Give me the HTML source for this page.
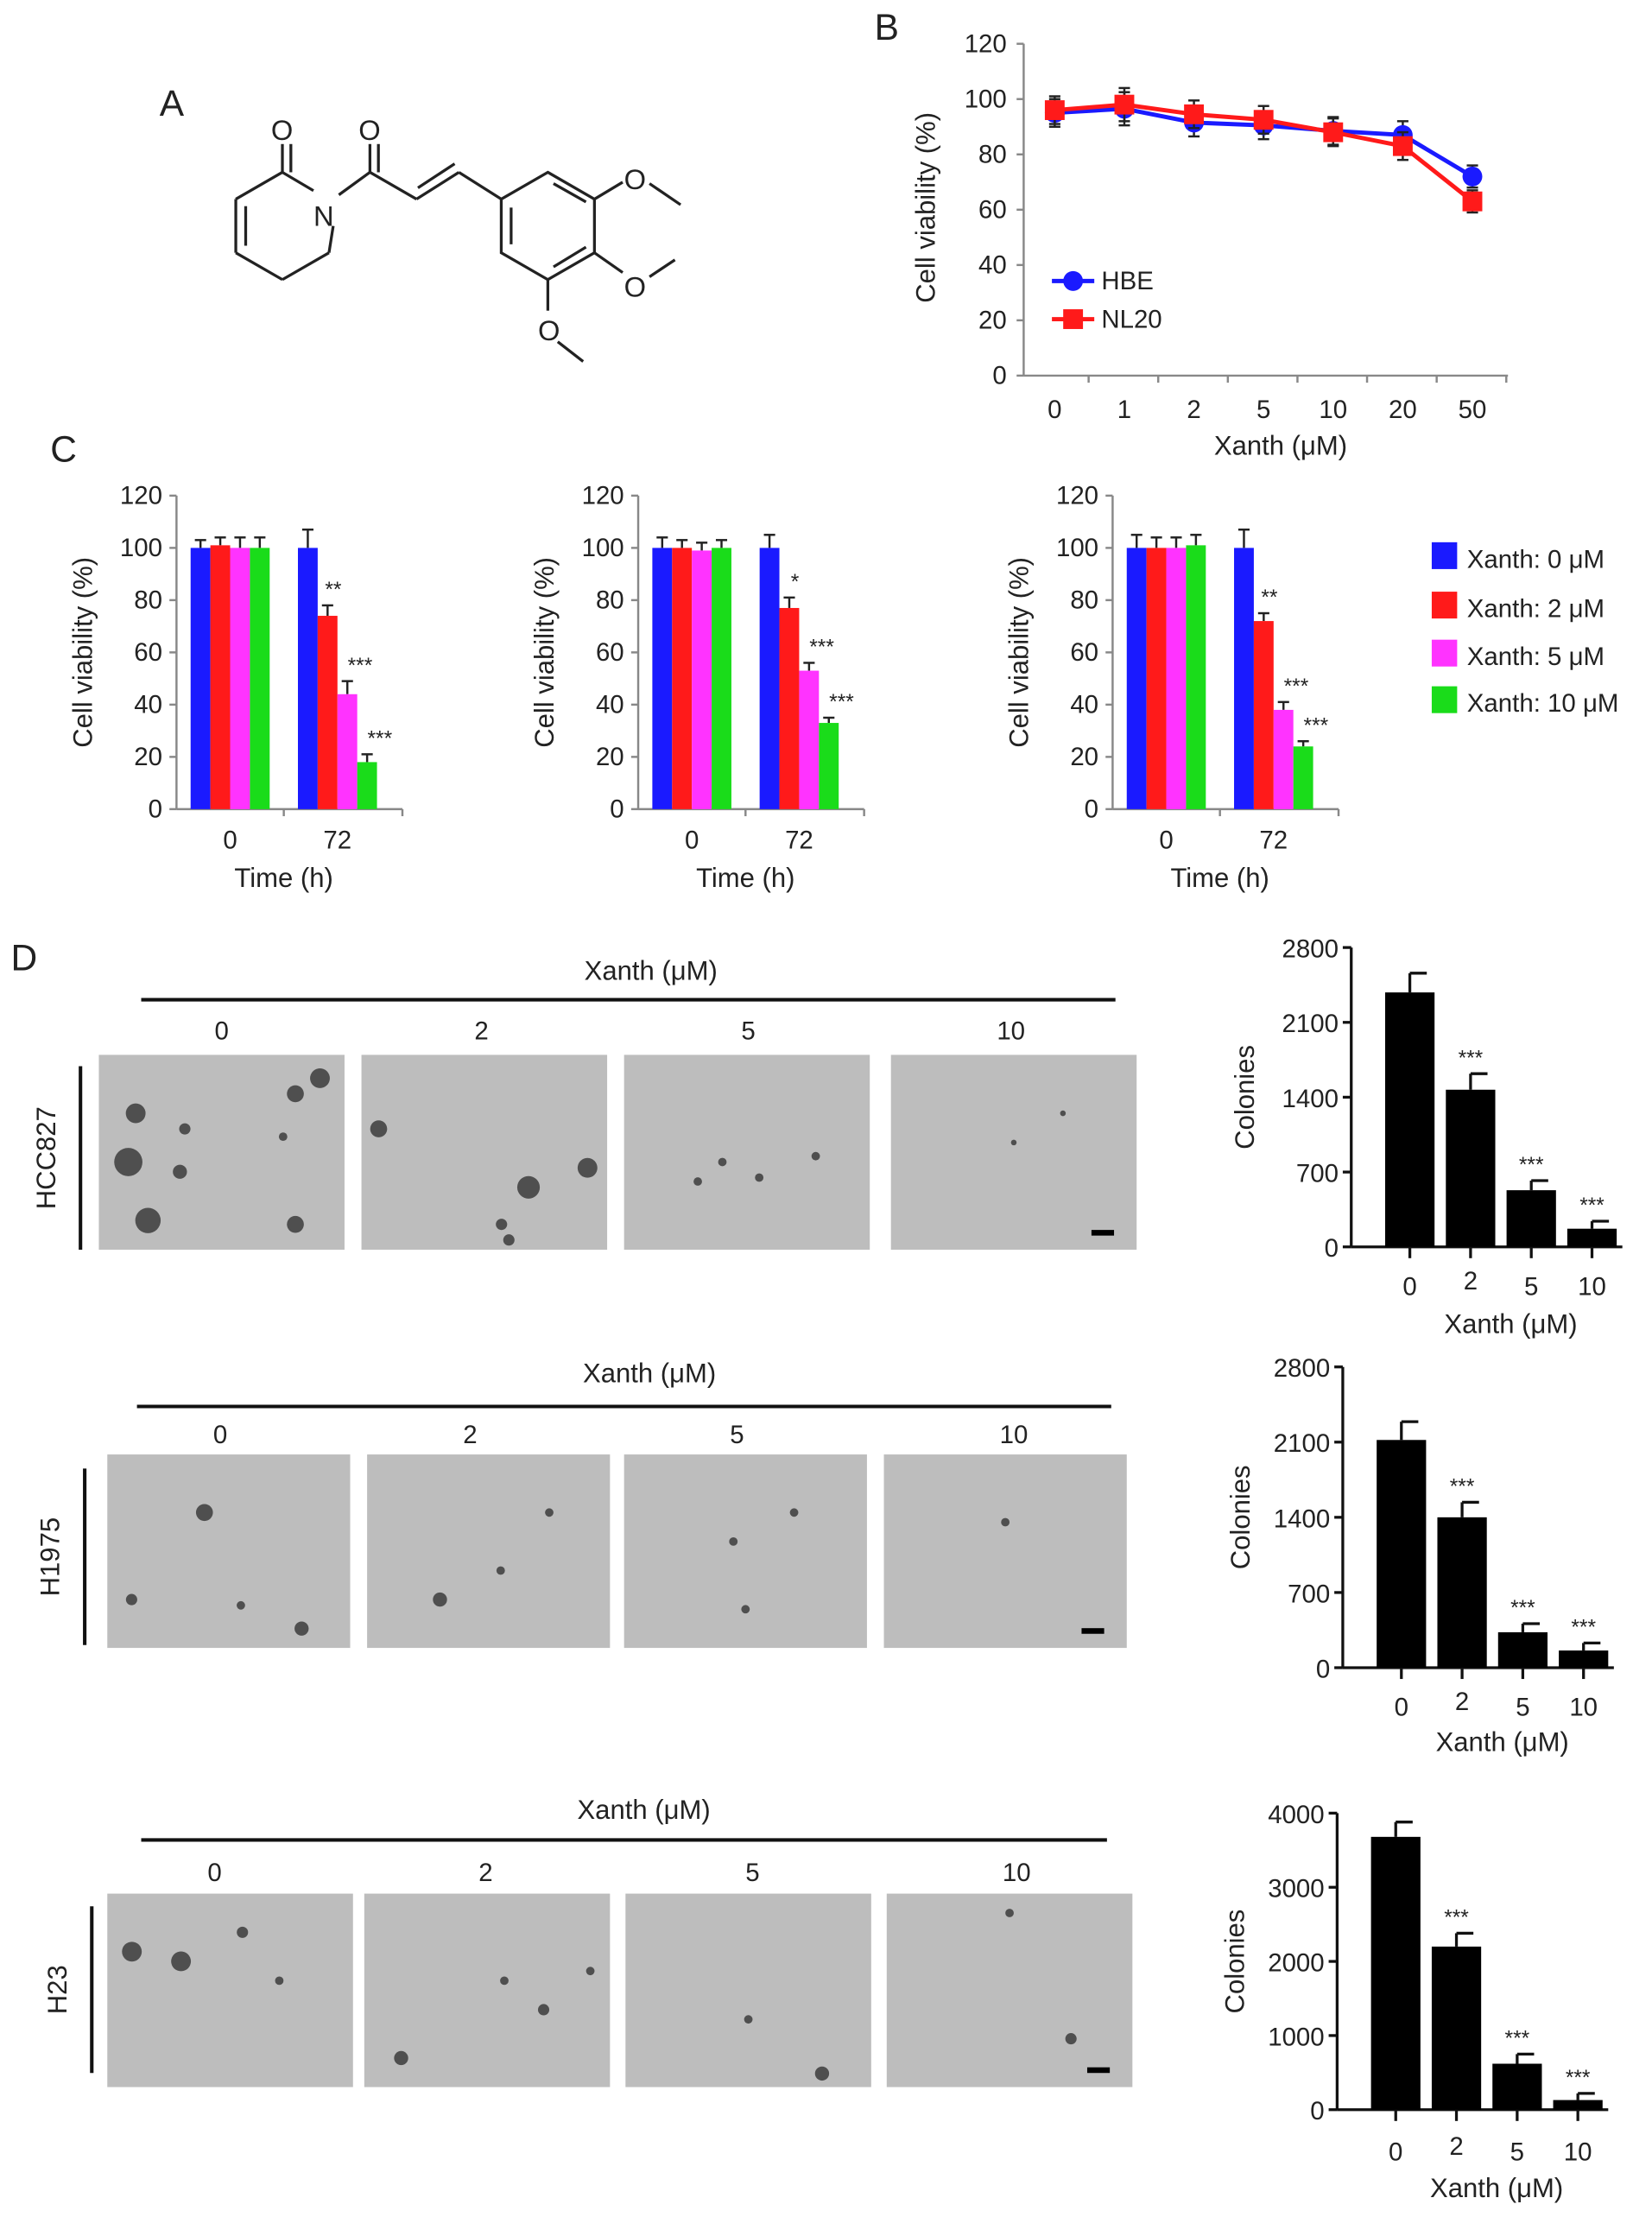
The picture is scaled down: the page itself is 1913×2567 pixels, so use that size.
<!DOCTYPE html>
<html><head><meta charset="utf-8">
<style>
html,body{margin:0;padding:0;background:#fff;}
svg{display:block;font-family:"Liberation Sans",sans-serif;}
text{fill:#222;}
</style></head>
<body>
<svg id="fig" width="1913" height="2567" viewBox="0 0 1170 1570" preserveAspectRatio="none" xmlns="http://www.w3.org/2000/svg">
<g stroke="#222" stroke-width="2" fill="none">
<text x="113" y="82" font-size="26" stroke="none" fill="#222">A</text>
<line x1="200" y1="122" x2="222" y2="135"/>
<line x1="236" y1="160" x2="233" y2="179"/>
<line x1="233" y1="179" x2="200" y2="198"/>
<line x1="200" y1="198" x2="167" y2="179"/>
<line x1="167" y1="179" x2="167" y2="141"/>
<line x1="174" y1="174" x2="174" y2="146"/>
<line x1="167" y1="141" x2="200" y2="122"/>
<line x1="200" y1="122" x2="200" y2="102"/><line x1="206" y1="122" x2="206" y2="102"/>
<line x1="240" y1="138" x2="262" y2="122"/>
<line x1="262" y1="122" x2="262" y2="102"/><line x1="268" y1="122" x2="268" y2="102"/>
<line x1="262" y1="122" x2="295" y2="141"/>
<line x1="295" y1="141" x2="325" y2="122"/><line x1="296" y1="133" x2="322" y2="116"/>
<line x1="325" y1="122" x2="355" y2="141"/>
<polygon points="355,141 388,122 421,141 421,179 388,198 355,179"/>
<line x1="362" y1="147" x2="362" y2="173"/><line x1="392" y1="130" x2="415" y2="143"/><line x1="415" y1="175" x2="392" y2="189"/>
<line x1="421" y1="141" x2="441" y2="129"/><line x1="460" y1="130" x2="482" y2="145"/>
<line x1="421" y1="179" x2="441" y2="193"/><line x1="460" y1="196" x2="478" y2="184"/>
<line x1="388" y1="198" x2="388" y2="220"/><line x1="395" y1="242" x2="413" y2="256"/>
<g stroke="none" fill="#222" font-size="20">
<text x="192" y="99">O</text><text x="254" y="99">O</text><text x="222" y="160">N</text>
<text x="442" y="134">O</text><text x="442" y="210">O</text><text x="381" y="241">O</text>
</g>
</g>
</svg>
<script>
// ---------- data ----------
const bDoses = ["0","1","2","5","10","20","50"];
const bHBE = [95, 96.5, 91.5, 90.5, 88.5, 87, 72];
const bHBEerr = [5, 6, 5, 5, 5, 5, 4];
const bNL20 = [96, 98, 94.5, 92.5, 88, 83, 63];
const bNL20err = [5, 6, 5, 5, 5, 5, 4];
const bTicks = [0,20,40,60,80,100,120];

const cTimes = ["0","72"];
const cSeries = ["Xanth: 0 μM","Xanth: 2 μM","Xanth: 5 μM","Xanth: 10 μM"];
const cColors = ["#1a1aff","#ff1a1a","#ff33ff","#1adc1a"];
const c1Values = [[100,101,100,100],[100,74,44,18]];
const c1Err = [[3,3,4,4],[7,4,5,3]];
const c2Values = [[100,100,99,100],[100,77,53,33]];
const c2Err = [[4,3,3,3],[5,4,3,2]];
const c3Values = [[100,100,100,101],[100,72,38,24]];
const c3Err = [[5,4,4,4],[7,3,3,2]];
const c1Stars = [["","","",""],["","**","***","***"]];
const c2Stars = [["","","",""],["","*","***","***"]];
const c3Stars = [["","","",""],["","**","***","***"]];
const cTicks = [0,20,40,60,80,100,120];

const dDoses = ["0","2","5","10"];
const d1Values = [2380,1470,530,170];
const d1Err = [180,150,90,70];
const d2Values = [2120,1400,330,160];
const d2Err = [170,140,80,70];
const d3Values = [3680,2200,620,130];
const d3Err = [200,180,130,90];
const dStars = ["","***","***","***"];
const d1Ticks = [0,700,1400,2100,2800];
const d3Ticks = [0,1000,2000,3000,4000];
const lines = ["HCC827","H1975","H23"];

// ---------- helpers ----------
const svg = document.getElementById('fig');
const NS = "http://www.w3.org/2000/svg";
function mk(tag, attrs, parent){
  const e = document.createElementNS(NS, tag);
  for (const k in attrs) e.setAttribute(k, attrs[k]);
  (parent||svg).appendChild(e);
  return e;
}
function txt(s, x, y, size, parent, anchor, rot){
  const t = mk('text', {x:x, y:y, 'font-size':size, 'text-anchor':anchor||'middle'}, parent);
  if (rot) t.setAttribute('transform', 'rotate(-90 '+x+' '+y+')');
  t.textContent = s;
  return t;
}

// ---------- panel B ----------
(function(){
  const g = mk('g', {});
  
  
  const L = txt("B", 628, 28, 26, g, 'middle');
  
  
  const y0 = 266, y1 = 31, x0 = 725, x1 = 1068;
  const ys = v => y0 - (v/120)*(y0-y1);
  const xs = i => 747 + i*49.3;
  mk('line', {x1:x0, y1:y1, x2:x0, y2:y0, stroke:'#888', 'stroke-width':1.5}, g);
  mk('line', {x1:x0, y1:y0, x2:x1, y2:y0, stroke:'#888', 'stroke-width':1.5}, g);
  bTicks.forEach(v => {
    mk('line', {x1:x0-5, y1:ys(v), x2:x0, y2:ys(v), stroke:'#888', 'stroke-width':1.5}, g);
    const t = txt(String(v), x0-12, ys(v)+6, 18, g, 'end');
    
    
  });
  bDoses.forEach((d,i) => {
    mk('line', {x1:xs(i)+24, y1:y0, x2:xs(i)+24, y2:y0+5, stroke:'#888', 'stroke-width':1.5}, g);
    const t = txt(d, xs(i), 296, 18, g);
    
    
  });
  const xt = txt("Xanth (μM)", 907, 322, 19, g);
  
  
  const yt = txt("Cell viability (%)", 662, 147, 19, g, 'middle', true);
  
  
  function series(vals, errs, color, marker, name){
    const sg = mk('g', {}, g);
    
    
    vals.forEach((v,i) => {
      mk('line', {x1:xs(i), y1:ys(v-errs[i]), x2:xs(i), y2:ys(v+errs[i]), stroke:'#222', 'stroke-width':1.5}, sg);
      mk('line', {x1:xs(i)-4, y1:ys(v+errs[i]), x2:xs(i)+4, y2:ys(v+errs[i]), stroke:'#222', 'stroke-width':1.5}, sg);
      mk('line', {x1:xs(i)-4, y1:ys(v-errs[i]), x2:xs(i)+4, y2:ys(v-errs[i]), stroke:'#222', 'stroke-width':1.5}, sg);
    });
    mk('polyline', {points: vals.map((v,i)=>xs(i)+','+ys(v)).join(' '), fill:'none', stroke:color, 'stroke-width':3}, sg);
    vals.forEach((v,i) => {
      let m;
      if (marker==='c') m = mk('circle', {cx:xs(i), cy:ys(v), r:7, fill:color}, sg);
      else m = mk('rect', {x:xs(i)-7, y:ys(v)-7, width:14, height:14, fill:color}, sg);
      
      
    });
  }
  series(bHBE, bHBEerr, '#1a1aff', 'c', 'series-hbe');
  series(bNL20, bNL20err, '#ff1a1a', 's', 'series-nl20');
  const lg = mk('g', {}, g);
  
  
  mk('line', {x1:745, y1:199, x2:775, y2:199, stroke:'#1a1aff', 'stroke-width':3}, lg);
  mk('circle', {cx:760, cy:199, r:7, fill:'#1a1aff'}, lg);
  txt("HBE", 780, 205, 18, lg, 'start');
  mk('line', {x1:745, y1:226, x2:775, y2:226, stroke:'#ff1a1a', 'stroke-width':3}, lg);
  mk('rect', {x:753, y:219, width:14, height:14, fill:'#ff1a1a'}, lg);
  txt("NL20", 780, 232, 18, lg, 'start');
})();

// ---------- panel C ----------
const cl = txt("C", 45, 327, 26, svg, 'middle');


function cChart(ax, values, errs, stars, name){
  const g = mk('g', {});
  
  
  const y0 = 573, y1 = 351, bw = 14;
  const ys = v => y0 - (v/120)*(y0-y1);
  const gx = [ax+10, ax+86];
  mk('line', {x1:ax, y1:y1, x2:ax, y2:y0, stroke:'#888', 'stroke-width':1.5}, g);
  mk('line', {x1:ax, y1:y0, x2:ax+160, y2:y0, stroke:'#888', 'stroke-width':1.5}, g);
  mk('line', {x1:ax+76, y1:y0, x2:ax+76, y2:y0+5, stroke:'#888', 'stroke-width':1.5}, g);
  mk('line', {x1:ax+160, y1:y0, x2:ax+160, y2:y0+5, stroke:'#888', 'stroke-width':1.5}, g);
  cTicks.forEach(v => {
    mk('line', {x1:ax-5, y1:ys(v), x2:ax, y2:ys(v), stroke:'#888', 'stroke-width':1.5}, g);
    const t = txt(String(v), ax-10, ys(v)+6, 18, g, 'end');
    
    
  });
  cTimes.forEach((tm, gi) => {
    const t = txt(tm, gx[gi]+bw*2, 601, 18, g);
    
    
    values[gi].forEach((v, si) => {
      const x = gx[gi] + si*bw;
      const e = errs[gi][si];
      mk('line', {x1:x+bw/2, y1:ys(v), x2:x+bw/2, y2:ys(v+e), stroke:'#222', 'stroke-width':1.5}, g);
      mk('line', {x1:x+bw/2-4, y1:ys(v+e), x2:x+bw/2+4, y2:ys(v+e), stroke:'#222', 'stroke-width':1.5}, g);
      const r = mk('rect', {x:x, y:ys(v), width:bw, height:y0-ys(v), fill:cColors[si]}, g);
      
      
      if (stars[gi][si]) {
        const s = txt(stars[gi][si], x+bw/2+(si>1?9:4), ys(v+e)-6, 15, g);
        
        
      }
    });
  });
  const xt = txt("Time (h)", ax+76, 628, 19, g);
  
  
  const yt = txt("Cell viability (%)", ax-60, 462, 19, g, 'middle', true);
  
  
}
cChart(125, c1Values, c1Err, c1Stars, 'viability-chart-1');
cChart(452, c2Values, c2Err, c2Stars, 'viability-chart-2');
cChart(788, c3Values, c3Err, c3Stars, 'viability-chart-3');
(function(){
  const lg = mk('g', {});
  
  
  const ly = [394, 429, 463, 496];
  cSeries.forEach((s,i) => {
    mk('rect', {x:1014, y:ly[i]-10, width:18, height:19, fill:cColors[i]}, lg);
    const t = txt(s, 1039, ly[i]+8, 18, lg, 'start');
    
    
  });
})();

// ---------- panel D ----------
const dl = txt("D", 17, 687, 26, svg, 'middle');


const rows = [
  {hx:461, hy:694, ly:708, lx0:100, lx1:790, tx:[157,341,530,716], ty:736, iy0:747, iy1:885, ix:[70,256,442,631], iw:174, vx:57, vy0:755, vy1:885},
  {hx:460, hy:979, ly:996, lx0:97, lx1:787, tx:[156,333,522,718], ty:1022, iy0:1030, iy1:1167, ix:[76,260,442,626], iw:172, vx:60, vy0:1040, vy1:1165},
  {hx:456, hy:1288, ly:1303, lx0:100, lx1:784, tx:[152,344,533,720], ty:1332, iy0:1341, iy1:1478, ix:[76,258,443,628], iw:174, vx:65, vy0:1350, vy1:1468}
];
const dots = [
  [[[0.15,0.3,7],[0.12,0.55,10],[0.2,0.85,9],[0.35,0.38,4],[0.33,0.6,5],[0.8,0.2,6],[0.9,0.12,7],[0.75,0.42,3],[0.8,0.87,6]],[[0.07,0.38,6],[0.68,0.68,8],[0.92,0.58,7],[0.57,0.87,4],[0.6,0.95,4]],[[0.4,0.55,3],[0.55,0.63,3],[0.3,0.65,3],[0.78,0.52,3]],[[0.5,0.45,2],[0.7,0.3,2]]],
  [[[0.4,0.3,6],[0.8,0.9,5],[0.1,0.75,4],[0.55,0.78,3]],[[0.3,0.75,5],[0.75,0.3,3],[0.55,0.6,3]],[[0.7,0.3,3],[0.5,0.8,3],[0.45,0.45,3]],[[0.5,0.35,3]]],
  [[[0.1,0.3,7],[0.3,0.35,7],[0.55,0.2,4],[0.7,0.45,3]],[[0.15,0.85,5],[0.73,0.6,4],[0.92,0.4,3],[0.57,0.45,3]],[[0.8,0.93,5],[0.5,0.65,3]],[[0.75,0.75,4],[0.5,0.1,3]]]
];
rows.forEach((r, ri) => {
  const g = mk('g', {});
  
  
  const h = txt("Xanth (μM)", r.hx, r.hy, 19, g);
  
  
  mk('line', {x1:r.lx0, y1:r.ly, x2:r.lx1, y2:r.ly, stroke:'#111', 'stroke-width':2.5}, g);
  mk('line', {x1:r.vx, y1:r.vy0, x2:r.vx, y2:r.vy1, stroke:'#111', 'stroke-width':2.5}, g);
  const cx = r.vx - 18, cy = (r.vy0+r.vy1)/2;
  const ct = txt(lines[ri], cx, cy, 19, g, 'middle', true);
  
  
  dDoses.forEach((d, i) => {
    const t = txt(d, r.tx[i], r.ty, 18, g);
    
    
    const im = mk('rect', {x:r.ix[i], y:r.iy0, width:r.iw, height:r.iy1-r.iy0, fill:'#bdbdbd'}, g);
    
    
    dots[ri][i].forEach(p => {
      mk('circle', {cx:r.ix[i]+p[0]*r.iw, cy:r.iy0+p[1]*(r.iy1-r.iy0), r:p[2], fill:'#333', opacity:0.8}, g);
    });
  });
  const sb = mk('rect', {x:r.ix[3]+r.iw-32, y:r.iy1-14, width:16, height:4, fill:'#000'}, g);
  
  
});

function dChart(ax, y0, y1, ticks, values, errs, xlabelY, titleY, colX, name){
  const g = mk('g', {});
  
  
  const max = ticks[ticks.length-1];
  const ys = v => y0 - (v/max)*(y0-y1);
  const bx = i => ax + 24 + i*43;
  const bw = 35;
  mk('line', {x1:ax, y1:y1, x2:ax, y2:y0, stroke:'#111', 'stroke-width':2}, g);
  mk('line', {x1:ax, y1:y0, x2:ax+192, y2:y0, stroke:'#111', 'stroke-width':2}, g);
  ticks.forEach(v => {
    mk('line', {x1:ax-6, y1:ys(v), x2:ax, y2:ys(v), stroke:'#111', 'stroke-width':2}, g);
    const t = txt(String(v), ax-9, ys(v)+7, 18, g, 'end');
    
    
  });
  values.forEach((v,i) => {
    const x = bx(i);
    mk('line', {x1:x+bw/2, y1:y0, x2:x+bw/2, y2:y0+8, stroke:'#111', 'stroke-width':2}, g);
    mk('line', {x1:x+bw/2, y1:ys(v), x2:x+bw/2, y2:ys(v+errs[i]), stroke:'#111', 'stroke-width':2}, g);
    mk('line', {x1:x+bw/2, y1:ys(v+errs[i]), x2:x+bw/2+12, y2:ys(v+errs[i]), stroke:'#111', 'stroke-width':2}, g);
    const b = mk('rect', {x:x, y:ys(v), width:bw, height:y0-ys(v), fill:'#000'}, g);
    
    
    if (dStars[i]) {
      const s = txt(dStars[i], x+bw/2, ys(v+errs[i])-6, 15, g);
      
      
    }
    const t = txt(dDoses[i], x+bw/2, xlabelY + (i===1?-4:0), 18, g);
    
    
  });
  const xt = txt("Xanth (μM)", ax+113, titleY, 19, g);
  
  
  const yt = txt("Colonies", colX, (y0+y1)/2, 19, g, 'middle', true);
  
  
}
dChart(957, 883, 671, d1Ticks, d1Values, d1Err, 917, 944, 888, 'colonies-chart-hcc827');
dChart(951, 1181, 968, d1Ticks, d2Values, d2Err, 1215, 1240, 885, 'colonies-chart-h1975');
dChart(947, 1494, 1284, d3Ticks, d3Values, d3Err, 1530, 1556, 881, 'colonies-chart-h23');
</script>
</body></html>
